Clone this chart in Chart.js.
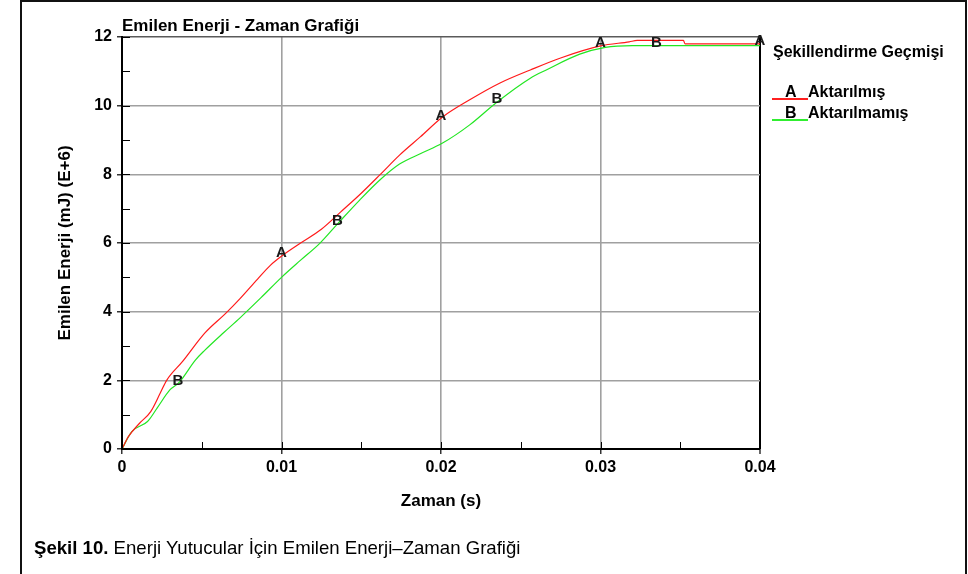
<!DOCTYPE html>
<html><head><meta charset="utf-8">
<script src="https://cdn.jsdelivr.net/npm/chart.js@4/dist/chart.umd.min.js"></script>
<style>
html,body{margin:0;padding:0;background:#fff;width:968px;height:574px;overflow:hidden;font-family:"Liberation Sans",Arial,sans-serif;}
#frame{position:absolute;left:20px;top:0;width:947px;height:600px;border:2px solid #111;box-sizing:border-box;}
#wrap{position:absolute;left:0;top:0;width:968px;height:574px;}
.t{position:absolute;white-space:nowrap;line-height:1;color:#000;}
.b{font-weight:bold;}
.ln{position:absolute;height:2px;}
</style></head>
<body>
<div id="frame"></div>
<div id="wrap"><canvas id="c" width="968" height="574"></canvas></div>
<div class="t b" style="left:122px;top:17px;font-size:17px;">Emilen Enerji - Zaman Grafiği</div>
<div class="t b" style="left:773px;top:44px;font-size:16px;">Şekillendirme Geçmişi</div>
<div class="t b" style="left:785px;top:84px;font-size:16px;">A</div>
<div class="t b" style="left:808px;top:84px;font-size:16px;">Aktarılmış</div>
<div class="ln" style="left:772px;top:98px;width:36px;background:#ff2020;"></div>
<div class="t b" style="left:785px;top:105px;font-size:16px;">B</div>
<div class="t b" style="left:808px;top:105px;font-size:16px;">Aktarılmamış</div>
<div class="ln" style="left:772px;top:119px;width:36px;background:#30ee30;"></div>
<div class="t" style="left:34px;top:539px;font-size:18.6px;"><span class="b">Şekil 10.</span> Enerji Yutucular İçin Emilen Enerji–Zaman Grafiği</div>
<script>
// Series A: Aktarılmış (red)
const timeA   = [0, 0.0004, 0.0011, 0.0018, 0.0024, 0.0028, 0.0038, 0.0052, 0.0065, 0.0074, 0.0085, 0.0093, 0.0101, 0.0112, 0.0125, 0.0137, 0.0150, 0.0162, 0.0174, 0.0187, 0.0201, 0.0218, 0.0237, 0.0256, 0.0275, 0.0300, 0.0318, 0.0323, 0.0352, 0.0353, 0.0400];
const energyA = [0, 0.36, 0.75, 1.09, 1.63, 2.0, 2.55, 3.38, 3.95, 4.38, 4.95, 5.35, 5.65, 6.0, 6.4, 6.9, 7.45, 8.0, 8.56, 9.09, 9.67, 10.17, 10.66, 11.04, 11.39, 11.74, 11.86, 11.9, 11.9, 11.8, 11.8];
// Series B: Aktarılmamış (green)
const timeB   = [0, 0.0006, 0.0016, 0.0022, 0.0030, 0.0036, 0.0046, 0.0052, 0.0064, 0.0074, 0.0087, 0.0100, 0.0112, 0.0124, 0.0135, 0.0149, 0.0162, 0.0174, 0.0187, 0.0201, 0.0218, 0.0235, 0.0256, 0.0266, 0.0287, 0.0303, 0.0320, 0.0400];
const energyB = [0, 0.5, 0.8, 1.19, 1.72, 1.95, 2.59, 2.88, 3.4, 3.82, 4.4, 5.0, 5.5, 5.99, 6.55, 7.25, 7.85, 8.3, 8.6, 8.91, 9.44, 10.1, 10.8, 11.04, 11.5, 11.7, 11.75, 11.75];
// Marker letters along curves
const markerTimesA = [0.01, 0.02, 0.03, 0.04];
const markerTimesB = [0.0035, 0.0135, 0.0235, 0.0335];
// Tick labels
const xTickLabels = ['0', '0.01', '0.02', '0.03', '0.04'];
const yTickLabels = ['0', '2', '4', '6', '8', '10', '12'];

function pts(ts, vs){ return ts.map((t,i)=>({x:t, y:vs[i]})); }
function interp(ts, vs, t){
  for (let i=1;i<ts.length;i++){
    if (t<=ts[i]){ const f=(t-ts[i-1])/(ts[i]-ts[i-1]); return vs[i-1]+f*(vs[i]-vs[i-1]); }
  }
  return vs[vs.length-1];
}

const extras = {
  id: 'extras',
  afterDraw(chart){
    const {ctx, scales:{x, y}} = chart;
    ctx.save();
    ctx.strokeStyle = '#000';
    ctx.lineWidth = 1;
    const x0 = Math.round(x.getPixelForValue(0));
    const y0 = Math.round(y.getPixelForValue(0));
    const yv = y.ticks.map(t=>t.value);
    for (let i=0;i<yv.length;i++){
      const list = [yv[i]];
      if (i<yv.length-1) list.push((yv[i]+yv[i+1])/2);
      list.forEach(v=>{
        const py = Math.round(y.getPixelForValue(v))+0.5;
        ctx.beginPath(); ctx.moveTo(x0, py); ctx.lineTo(x0+8, py); ctx.stroke();
      });
    }
    const xv = x.ticks.map(t=>t.value);
    for (let i=0;i<xv.length;i++){
      const list = [xv[i]];
      if (i<xv.length-1) list.push((xv[i]+xv[i+1])/2);
      list.forEach(v=>{
        const px = Math.round(x.getPixelForValue(v))+0.5;
        ctx.beginPath(); ctx.moveTo(px, y0); ctx.lineTo(px, y0-7); ctx.stroke();
      });
    }
    ctx.fillStyle = '#1a1a1a';
    ctx.font = 'bold 15px "Liberation Sans", Arial, sans-serif';
    ctx.textAlign = 'center';
    ctx.textBaseline = 'middle';
    markerTimesA.forEach(t=>{
      ctx.fillText('A', x.getPixelForValue(t), y.getPixelForValue(interp(timeA, energyA, t)) - 3);
    });
    markerTimesB.forEach(t=>{
      ctx.fillText('B', x.getPixelForValue(t), y.getPixelForValue(interp(timeB, energyB, t)) - 3);
    });
    ctx.restore();
  }
};

const tickFont = {family:'"Liberation Sans", Arial, sans-serif', size:16, weight:'bold'};
const titleFont = {family:'"Liberation Sans", Arial, sans-serif', size:17, weight:'bold'};

new Chart(document.getElementById('c'), {
  type: 'line',
  data: {
    datasets: [
      {label:'Aktarılmış', data: pts(timeA, energyA), borderColor:'#ff1a1a', borderWidth:1.2, pointRadius:0, cubicInterpolationMode:'monotone', fill:false},
      {label:'Aktarılmamış', data: pts(timeB, energyB), borderColor:'#22e622', borderWidth:1.2, pointRadius:0, cubicInterpolationMode:'monotone', fill:false}
    ]
  },
  options: {
    responsive: false,
    animation: false,
    events: [],
    layout: {padding: {left:55, right:208, top:37, bottom:62}},
    plugins: {legend:{display:false}, title:{display:false}, tooltip:{enabled:false}},
    scales: {
      x: {
        type:'linear', min:0, max:0.04,
        afterFit(s){ s.height = 63; },
        ticks:{stepSize:0.01, color:'#000', font:tickFont, padding:4, maxRotation:0, autoSkip:false,
          callback:(v,i)=>xTickLabels[i]},
        grid:{color:(c)=> c.index===4 ? '#000' : '#a0a0a0', lineWidth:(c)=> c.index===4 ? 2 : 1.6, drawTicks:true, tickLength:5, tickColor:'#000', tickWidth:1.2},
        border:{color:'#000', width:2},
        title:{display:true, text:'Zaman (s)', color:'#000', font:titleFont, padding:0}
      },
      y: {
        min:0, max:12,
        afterFit(s){ s.width = 67; },
        ticks:{stepSize:2, color:'#000', font:tickFont, padding:5, callback:(v,i)=>yTickLabels[i]},
        grid:{color:(c)=> c.index===6 ? '#5a5a5a' : '#a0a0a0', lineWidth:1.6, drawTicks:true, tickLength:5, tickColor:'#000', tickWidth:1.2},
        border:{color:'#000', width:2},
        title:{display:true, text:'Emilen Enerji (mJ) (E+6)', color:'#000', font:titleFont, padding:0}
      }
    }
  },
  plugins: [extras]
});
</script>
</body></html>
